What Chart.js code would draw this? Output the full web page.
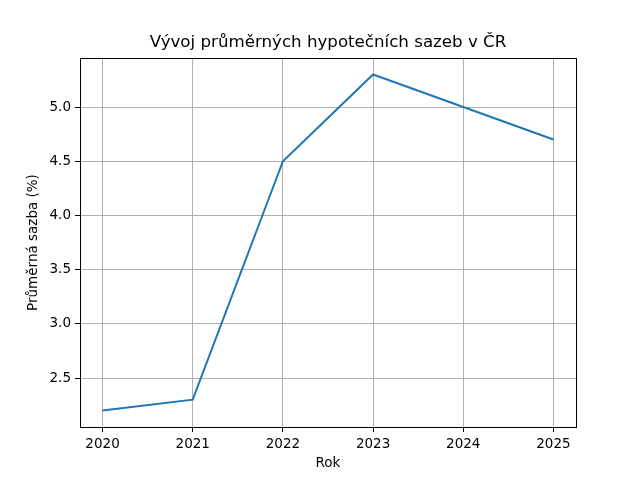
<!DOCTYPE html>
<html>
<head>
<meta charset="utf-8">
<script src="https://cdn.jsdelivr.net/npm/chart.js@4/dist/chart.umd.min.js"></script>
<style>
  html, body { margin: 0; padding: 0; background: #fff; }
  #wrap { width: 640px; height: 480px; }
</style>
</head>
<body>
<div id="wrap"><canvas id="graf" width="640" height="480"></canvas></div>
<script>
const roky = [2020, 2021, 2022, 2023, 2024, 2025];
const sazby = [2.2, 2.3, 4.5, 5.3, 5.0, 4.7];
const yTicky = [2.5, 3.0, 3.5, 4.0, 4.5, 5.0];

Chart.defaults.font.family = 'DejaVu Sans';
Chart.defaults.color = '#000';

// ramecek kolem plochy grafu jako v matplotlibu
const ramecek = {
  id: 'ramecek',
  afterDatasetsDraw(chart) {
    const { ctx, chartArea: a } = chart;
    ctx.save();
    ctx.strokeStyle = '#000';
    ctx.lineWidth = 1;
    ctx.strokeRect(Math.round(a.left) + 0.5, Math.round(a.top) + 0.5,
      Math.round(a.right - a.left), Math.round(a.bottom - a.top));
    ctx.restore();
  }
};

new Chart(document.getElementById('graf').getContext('2d'), {
  type: 'line',
  data: {
    datasets: [{
      label: 'Průměrná sazba',
      data: roky.map((r, i) => ({ x: r, y: sazby[i] })),
      borderColor: '#1f77b4',
      borderWidth: 2,
      pointRadius: 0,
      tension: 0,
      fill: false
    }]
  },
  options: {
    responsive: false,
    animation: false,
    layout: { padding: { left: 16, right: 0, top: 0, bottom: 0 } },
    plugins: {
      legend: { display: false },
      tooltip: { enabled: false },
      title: {
        display: true,
        text: 'Vývoj průměrných hypotečních sazeb v ČR',
        font: { size: 16.67, weight: 'normal' },
        color: '#000',
        padding: { top: 33, bottom: 5 }
      }
    },
    scales: {
      x: {
        type: 'linear',
        min: 2019.75,
        max: 2025.25,
        afterBuildTicks: s => { s.ticks = roky.map(v => ({ value: v })); },
        afterFit: s => { s.height = 53; },
        ticks: { callback: v => String(v), font: { size: 13.5 }, padding: 4, maxRotation: 0 },
        grid: { color: '#b0b0b0', tickColor: '#000', tickLength: 5, lineWidth: 1 },
        border: { display: false },
        title: { display: true, text: 'Rok', font: { size: 13.5 }, padding: { top: 0, bottom: 8 } }
      },
      y: {
        min: 2.048,
        max: 5.452,
        afterBuildTicks: s => { s.ticks = yTicky.map(v => ({ value: v })); },
        afterFit: s => { s.width = 64; },
        ticks: { callback: v => v.toFixed(1), font: { size: 13.5 }, padding: 4 },
        grid: { color: '#b0b0b0', tickColor: '#000', tickLength: 5, lineWidth: 1 },
        border: { display: false },
        title: { display: true, text: 'Průměrná sazba (%)', font: { size: 13.5 }, padding: { top: 9, bottom: 0 } }
      },
      prazdna: {
        position: 'right',
        afterFit: s => { s.width = 64; },
        ticks: { display: false },
        grid: { display: false },
        border: { display: false }
      }
    }
  },
  plugins: [ramecek]
});
</script>
</body>
</html>
